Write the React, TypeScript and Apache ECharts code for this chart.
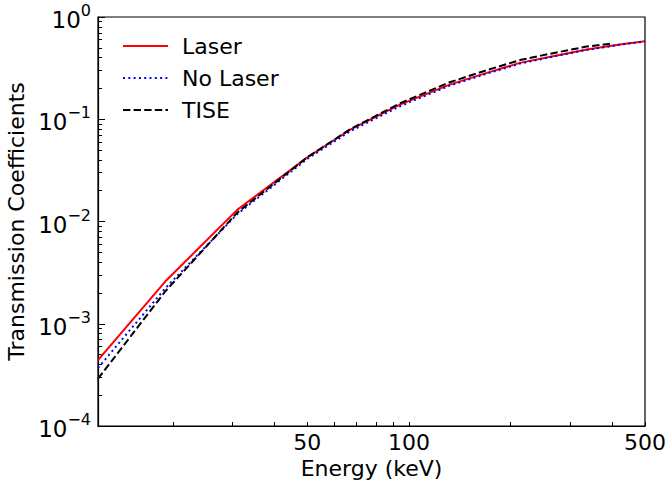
import React, { useEffect, useRef } from "react";
import * as echarts from "echarts";

// Energies (keV) and transmission coefficients
const energyLaser = [12, 19, 31, 50, 67, 94, 132, 170, 213, 267, 336, 421, 500];
const laserValues = [4.4e-4, 2.6e-3, 1.3e-2, 4.25e-2, 7.9e-2, 0.139, 0.218, 0.284, 0.356, 0.413, 0.48, 0.537, 0.578];

const energyNoLaser = [12, 19, 31, 50, 67, 94, 132, 170, 213, 267, 336, 421, 500];
const noLaserValues = [3.7e-4, 2.23e-3, 1.18e-2, 4.1e-2, 7.63e-2, 0.134, 0.213, 0.279, 0.35, 0.41, 0.476, 0.535, 0.578];

const energyTise = [12, 19, 31, 50, 67, 94, 132, 170, 213, 267, 336, 400];
const tiseValues = [2.9e-4, 2.08e-3, 1.22e-2, 4.24e-2, 8.0e-2, 0.143, 0.23, 0.302, 0.379, 0.443, 0.514, 0.55];

const xTickValues = [20, 30, 40, 50, 60, 70, 80, 90, 100, 200, 300, 400, 500];
const xTickLabels = [50, 100, 500];
const yMinorTicks = [
  2e-4, 3e-4, 4e-4, 5e-4, 6e-4, 7e-4, 8e-4, 9e-4,
  2e-3, 3e-3, 4e-3, 5e-3, 6e-3, 7e-3, 8e-3, 9e-3,
  2e-2, 3e-2, 4e-2, 5e-2, 6e-2, 7e-2, 8e-2, 9e-2,
  2e-1, 3e-1, 4e-1, 5e-1, 6e-1, 7e-1, 8e-1, 9e-1,
];

const FONT = "DejaVu Sans";

const zip = (xs: number[], ys: number[]) => xs.map((x, i) => [x, ys[i]]);

export default function App() {
  const ref = useRef<HTMLDivElement>(null);
  useEffect(() => {
    if (!ref.current) return;
    const chart = echarts.init(ref.current, undefined, { renderer: "svg" });
    chart.setOption({
      animation: false,
      backgroundColor: "#fff",
      grid: {
        left: 98,
        right: 21,
        top: 17,
        bottom: 58,
        show: true,
        borderColor: "#000",
        borderWidth: 1.2,
        backgroundColor: "transparent",
        outerBoundsMode: "none",
      },
      legend: {
        orient: "vertical",
        left: 117,
        top: 30,
        itemWidth: 45,
        itemHeight: 14,
        itemGap: 10,
        itemStyle: { opacity: 0 },
        textStyle: { fontSize: 22, fontFamily: FONT, color: "#000", padding: [0, 0, 0, 9] },
        data: ["Laser", "No Laser", "TISE"],
      },
      xAxis: {
        type: "log",
        logBase: 10,
        min: 12,
        max: 500,
        name: "Energy (keV)",
        nameLocation: "middle",
        nameGap: 29,
        nameTextStyle: { fontSize: 22, fontFamily: FONT, color: "#000" },
        axisLine: { show: true, lineStyle: { color: "#000", width: 1.2 } },
        axisTick: { show: true, inside: true, length: 4, customValues: xTickValues, lineStyle: { color: "#000" } },
        axisLabel: {
          show: true,
          customValues: xTickLabels,
          fontSize: 22,
          fontFamily: FONT,
          color: "#000",
          margin: 5,
          formatter: (v: number) => String(Math.round(v)),
        },
        splitLine: { show: false },
      },
      yAxis: [
        {
          type: "log",
          logBase: 10,
          min: 1e-4,
          max: 1,
          position: "left",
          name: "Transmission Coefficients",
          nameLocation: "middle",
          nameGap: 65,
          nameTextStyle: { fontSize: 22, fontFamily: FONT, color: "#000" },
          axisLine: { show: true, lineStyle: { color: "#000", width: 1.2 } },
          axisTick: { show: true, inside: true, length: 7, lineStyle: { color: "#000" } },
          axisLabel: {
            show: true,
            margin: 7,
            fontFamily: FONT,
            color: "#000",
            formatter: (v: number) => {
              const e = Math.round(Math.log10(v));
              return `{b|10}{s|${e < 0 ? "\u2212" : ""}${Math.abs(e)}}`;
            },
            rich: {
              b: { fontSize: 23, fontFamily: FONT, color: "#000", lineHeight: 29, verticalAlign: "bottom" },
              s: { fontSize: 16, fontFamily: FONT, color: "#000", lineHeight: 17, verticalAlign: "top" },
            },
          },
          splitLine: { show: false },
        },
        {
          type: "log",
          logBase: 10,
          min: 1e-4,
          max: 1,
          position: "left",
          offset: 0,
          axisLine: { show: false },
          axisTick: { show: true, inside: true, length: 4, customValues: yMinorTicks, lineStyle: { color: "#000" } },
          axisLabel: { show: false },
          splitLine: { show: false },
        },
      ],
      series: [
        {
          name: "Laser",
          type: "line",
          symbol: "none",
          color: "#ff0000",
          lineStyle: { color: "#ff0000", width: 2 },
          data: zip(energyLaser, laserValues),
          z: 3,
        },
        {
          name: "No Laser",
          type: "line",
          symbol: "none",
          color: "#0000ff",
          lineStyle: { color: "#0000ff", width: 2, type: [2, 3.3] },
          data: zip(energyNoLaser, noLaserValues),
          z: 4,
        },
        {
          name: "TISE",
          type: "line",
          symbol: "none",
          color: "#000000",
          lineStyle: { color: "#000000", width: 2, type: [7.4, 3.2] },
          data: zip(energyTise, tiseValues),
          z: 5,
        },
      ],
    });
    return () => chart.dispose();
  }, []);
  return (
    <div
      ref={ref}
      style={{ position: "fixed", left: 0, top: 0, width: 666, height: 484, background: "#fff" }}
    />
  );
}
